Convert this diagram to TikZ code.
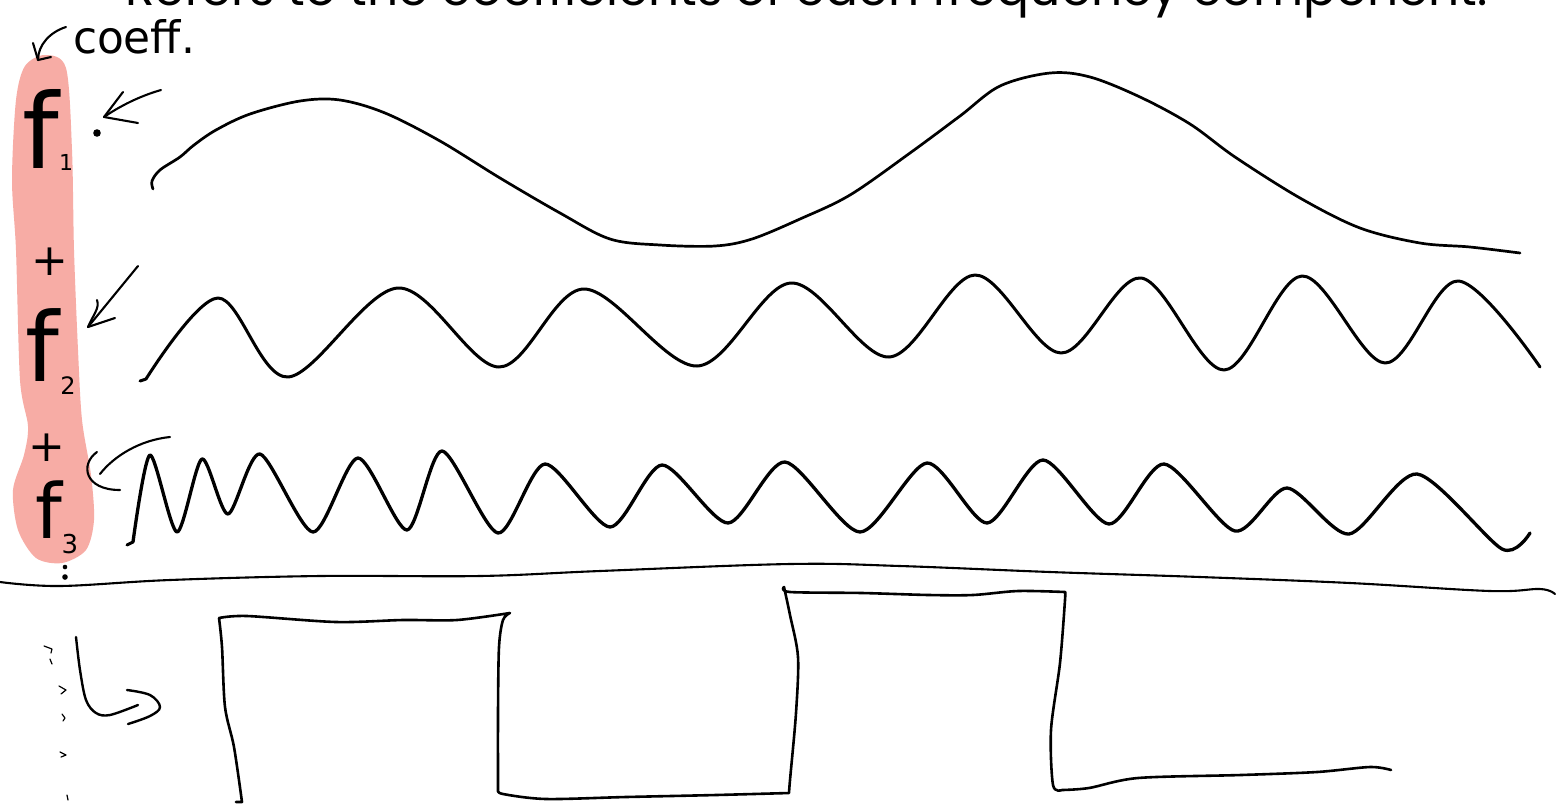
\documentclass[tikz,border=0pt]{standalone}
\usepackage{fontspec}
\usepackage{graphicx}
\newfontfamily\titlefont{Poppins}
\newfontfamily\handfont{DejaVu Sans}
\definecolor{pinkband}{RGB}{247,172,165}
\tikzset{
  wave/.style={line width=3pt, line cap=round, line join=round},
  ink/.style={line width=2.1pt, line cap=round, line join=round},
  thinink/.style={line width=1.2pt, line cap=round, line join=round},
  hand/.style={inner sep=0pt, outer sep=0pt, font=\handfont},
}
\begin{document}
\begin{tikzpicture}[x=1pt,y=-1pt]
\useasboundingbox (0,0) rectangle (1557,804);
\fill[white] (0,0) rectangle (1557,804);

% title (cut off at the top, as in the reference)
\node[anchor=base west, inner sep=0pt] (title) at (125,5)
  {\resizebox{1362pt}{!}{\titlefont Refers to the coefficients of each frequency component.}};

% pink highlight band
\fill[pinkband] plot[smooth cycle, tension=0.5] coordinates {
  (45,55)(66,68)(72,150)(74,250)(78,350)(82,420)(91,475)(94,520)(86,550)
  (62,563)(36,558)(18,530)(13,490)(24,455)(28,426)(20,380)(16,250)(12,180)(16,100)(25,66)};

% handwritten labels
\node[hand, anchor=west] (coeff) at (73,37)
  {\resizebox{122pt}{34pt}{coeff.}};
\node[hand, anchor=base] (fone) at (41,168) {\fontsize{104}{104}\selectfont f};
\node[hand, anchor=base] (fonesub) at (66,170) {\fontsize{22}{22}\selectfont 1};
\node[hand] (plusone) at (50,262) {\fontsize{44}{44}\selectfont +};
\node[hand, anchor=base] (ftwo) at (42,381) {\fontsize{96}{96}\selectfont f};
\node[hand, anchor=base] (ftwosub) at (68,394) {\fontsize{24}{24}\selectfont 2};
\node[hand] (plustwo) at (47,448) {\fontsize{44}{44}\selectfont +};
\node[hand, anchor=base] (fthree) at (49,538) {\fontsize{76}{76}\selectfont f};
\node[hand, anchor=base] (fthreesub) at (70,553) {\fontsize{26}{26}\selectfont 3};

% dots
\fill (97,133) circle (3.8pt);
\fill (65,567) circle (2.3pt);
\fill (65,577) circle (2.8pt);

% arrow coeff -> band top
\coordinate (coeffstart) at (66,27);
\coordinate (bandtop) at (38,60);
\draw[ink] (coeffstart) .. controls (50,32) and (38,45) .. (bandtop);
\draw[ink] (33,43) -- (bandtop) -- (51,57);

% arrow to f1
\coordinate (aonestart) at (161,90);
\coordinate (aonetip) at (104,117);
\draw[ink] (aonestart) .. controls (140,96) and (120,106) .. (aonetip);
\draw[ink] (123,92) -- (aonetip) -- (138,123);

% arrow to f2
\coordinate (atwostart) at (138,266);
\coordinate (atwotip) at (88,327);
\draw[ink] (atwostart) -- (atwotip);
\draw[ink] (97,300) .. controls (100,308) and (93,315) .. (atwotip) -- (115,318);

% arrow to f3
\coordinate (athreestart) at (170,437);
\coordinate (athreetip) at (100,474);
\draw[ink] (athreestart) .. controls (140,440) and (114,456) .. (athreetip);
\draw[ink] (97,452) .. controls (80,464) and (84,490) .. (120,490);

% wave 1 (lowest frequency)
\draw[wave, line width=2.7pt] plot[smooth, tension=0.55] coordinates {
  (153,189)(152,181)(160,170)(180,157)(194,145)(216,130)(250,114)(300,101)(340,100)
  (385,113)(440,141)(500,178)(560,213)(610,239)(660,245)(715,246)(752,239)(800,219)
  (850,195)(910,153)(960,116)(1000,86)(1050,73)(1090,77)(1140,97)(1190,124)(1235,157)
  (1300,198)(1360,228)(1420,243)(1470,247)(1520,253)};

% wave 2
\draw[wave] (140,381) -- (146,379);
\draw[wave] plot[smooth, tension=0.55] coordinates {
  (146,379)(218,298)(288,377)(398,288)(499,367)(584,289)(697,366)(791,283)(889,357)
  (975,275)(1061,353)(1141,278)(1224,370)(1302,276)(1385,363)(1458,281)(1540,367)};

% wave 3 (highest frequency)
\draw[wave] (127,545) -- (133,542);
\draw[wave, line width=3.3pt] plot[smooth, tension=0.45] coordinates {
  (133,542)(150,455)(177,532)(202,459)(228,514)(260,454)(313,532)(358,458)(407,530)
  (442,451)(498,533)(545,464)(610,527)(662,465)(728,523)(785,462)(860,532)(927,463)
  (987,523)(1043,460)(1109,524)(1164,464)(1235,531)(1287,488)(1349,534)(1417,474)
  (1502,549)(1530,533)};

% separating line
\draw[ink] plot[smooth, tension=0.6] coordinates {
  (0,582)(60,586)(170,580)(320,576)(480,576)(600,571)(790,564)(900,566)(1050,572)
  (1200,577)(1350,583)(1490,591)(1540,589)(1555,594)};

% hooked arrow bottom-left
\draw[ink, line width=2.4pt] plot[smooth, tension=0.55] coordinates {(76,637)(80,670)(86,700)(96,713)(110,715)(138,705)};
\draw[ink, line width=2.4pt] plot[smooth, tension=0.6] coordinates {(127,690)(150,695)(160,707)(150,716)(128,724)};

% small marks at the left
\draw[thinink] (44,646) -- (52,649) -- (51,653);
\draw[thinink] (50,659) -- (52,664);
\draw[thinink] (59,686) -- (66,690) -- (61,694);
\draw[thinink] (62,714) -- (65,718) -- (63,721);
\draw[thinink] (60,752) -- (66,755) -- (61,757);
\draw[thinink] (67,795) -- (68,800);

% square wave
\draw[wave, line width=2.6pt]
  (236,802) -- (242,802)
  -- plot[smooth, tension=0.5] coordinates {(242,802)(234,747)(225,707)(222,647)(219,618)}
  -- plot[smooth, tension=0.5] coordinates {(219,618)(247,616)(336,622)(403,620)(457,620)(510,613)}
  -- plot[smooth, tension=0.5] coordinates {(510,613)(503,620)(499,647)(498,713)(498,790)}
  -- plot[smooth, tension=0.5] coordinates {(498,790)(503,794)(546,799)(626,797)(716,795)(789,793)}
  -- plot[smooth, tension=0.5] coordinates {(789,793)(790,780)(796,713)(798,657)(790,615)(784,587)}
  -- plot[smooth, tension=0.5] coordinates {(784,587)(790,592)(862,593)(929,595)(973,595)(1018,591)(1065,592)}
  -- plot[smooth, tension=0.5] coordinates {(1065,592)(1065,600)(1060,663)(1051,730)(1053,785)(1062,790)}
  -- plot[smooth, tension=0.5] coordinates {(1062,790)(1089,788)(1138,778)(1241,775)(1317,772)(1370,767)(1391,770)};
\end{tikzpicture}
\end{document}
